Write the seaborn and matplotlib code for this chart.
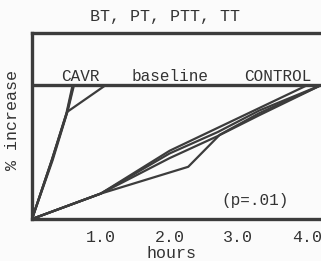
import matplotlib
matplotlib.use("Agg")
import matplotlib.pyplot as plt
import seaborn as sns
import pandas as pd

sns.set_theme(style="white")
plt.rcParams['font.family'] = ['Liberation Mono', 'DejaVu Sans Mono']

# CAVR curves (hours, % increase)
cavr_bt_h = [0, 0.29, 0.51, 0.60]
cavr_bt_y = [0, 44, 80, 100]
cavr_pt_h = [0, 0.30, 0.52, 0.61]
cavr_pt_y = [0, 44, 81, 100]
cavr_ptt_h = [0, 0.29, 0.51, 1.07]
cavr_ptt_y = [0, 44, 80, 100]
cavr_tt_h = [0, 0.28, 0.50, 0.59]
cavr_tt_y = [0, 43, 79, 100]

# CONTROL curves
ctrl_bt_h = [0, 1.0, 2.0, 4.0]
ctrl_bt_y = [0, 19, 51, 100]
ctrl_pt_h = [0, 1.0, 2.0, 2.7, 3.3, 4.2]
ctrl_pt_y = [0, 19, 49, 65, 81, 100]
ctrl_ptt_h = [0, 1.0, 2.0, 2.7, 3.3, 4.2]
ctrl_ptt_y = [0, 19, 45.5, 62, 77.5, 100]
ctrl_tt_h = [0, 1.0, 2.27, 2.73, 3.3, 4.2]
ctrl_tt_y = [0, 19, 39, 63, 79, 100]

baseline_value = 100
xtick_vals = [1.0, 2.0, 3.0, 4.0]
xtick_labels = ["1.0", "2.0", "3.0", "4.0"]

series = {
    ("CAVR", "BT"): (cavr_bt_h, cavr_bt_y),
    ("CAVR", "PT"): (cavr_pt_h, cavr_pt_y),
    ("CAVR", "PTT"): (cavr_ptt_h, cavr_ptt_y),
    ("CAVR", "TT"): (cavr_tt_h, cavr_tt_y),
    ("CONTROL", "BT"): (ctrl_bt_h, ctrl_bt_y),
    ("CONTROL", "PT"): (ctrl_pt_h, ctrl_pt_y),
    ("CONTROL", "PTT"): (ctrl_ptt_h, ctrl_ptt_y),
    ("CONTROL", "TT"): (ctrl_tt_h, ctrl_tt_y),
}
rows = []
for (grp, test), (hs, ys) in series.items():
    for i, (h, y) in enumerate(zip(hs, ys)):
        rows.append({"group": grp, "test": test, "unit": grp + test, "order": i,
                     "hours": h, "pct": y})
df = pd.DataFrame(rows)

ink = "#3c3c3c"
fig = plt.figure(figsize=(3.21, 2.61), dpi=100)
fig.patch.set_facecolor("#fbfbfb")
ax = fig.add_axes([32/321, 42/261, 1 - 32/321, (219-33)/261])
ax.set_facecolor("#fbfbfb")

sns.lineplot(data=df, x="hours", y="pct", units="unit", estimator=None,
             sort=False, color=ink, linewidth=1.6, ax=ax, legend=False)

ax.axhline(baseline_value, color=ink, linewidth=2.4, zorder=3)
ax.set_xlim(0, 4.2)
ax.set_ylim(0, 139)
ax.set_xticks(xtick_vals)
ax.set_xticklabels(xtick_labels, fontsize=12, color="#333333")
ax.set_yticks([])
ax.tick_params(axis="x", length=0, pad=8)
for s in ["left", "bottom", "top"]:
    ax.spines[s].set_color(ink)
    ax.spines[s].set_linewidth(2.4)
ax.spines["right"].set_visible(False)
ax.set_xlabel("")
ax.set_ylabel("")

ax.text(0.70, 101, "CAVR", ha="center", va="bottom", fontsize=11.5, color="#333333")
ax.text(2.0, 101, "baseline", ha="center", va="bottom", fontsize=11.5, color="#333333")
ax.text(3.57, 101, "CONTROL", ha="center", va="bottom", fontsize=11.5, color="#333333")
ax.text(3.24, 14, "(p=.01)", ha="center", va="center", fontsize=11.5, color="#333333")

fig.text(165/321, 1 - 17/261, "BT, PT, PTT, TT", ha="center", va="center",
         fontsize=12, color="#333333")
fig.text(172/321, 1 - 254/261, "hours", ha="center", va="center",
         fontsize=12, color="#333333")
fig.text(13/321, 1 - 120/261, "% increase", ha="center", va="center",
         rotation=90, fontsize=12, color="#333333")

fig.savefig("out.png", dpi=100)
